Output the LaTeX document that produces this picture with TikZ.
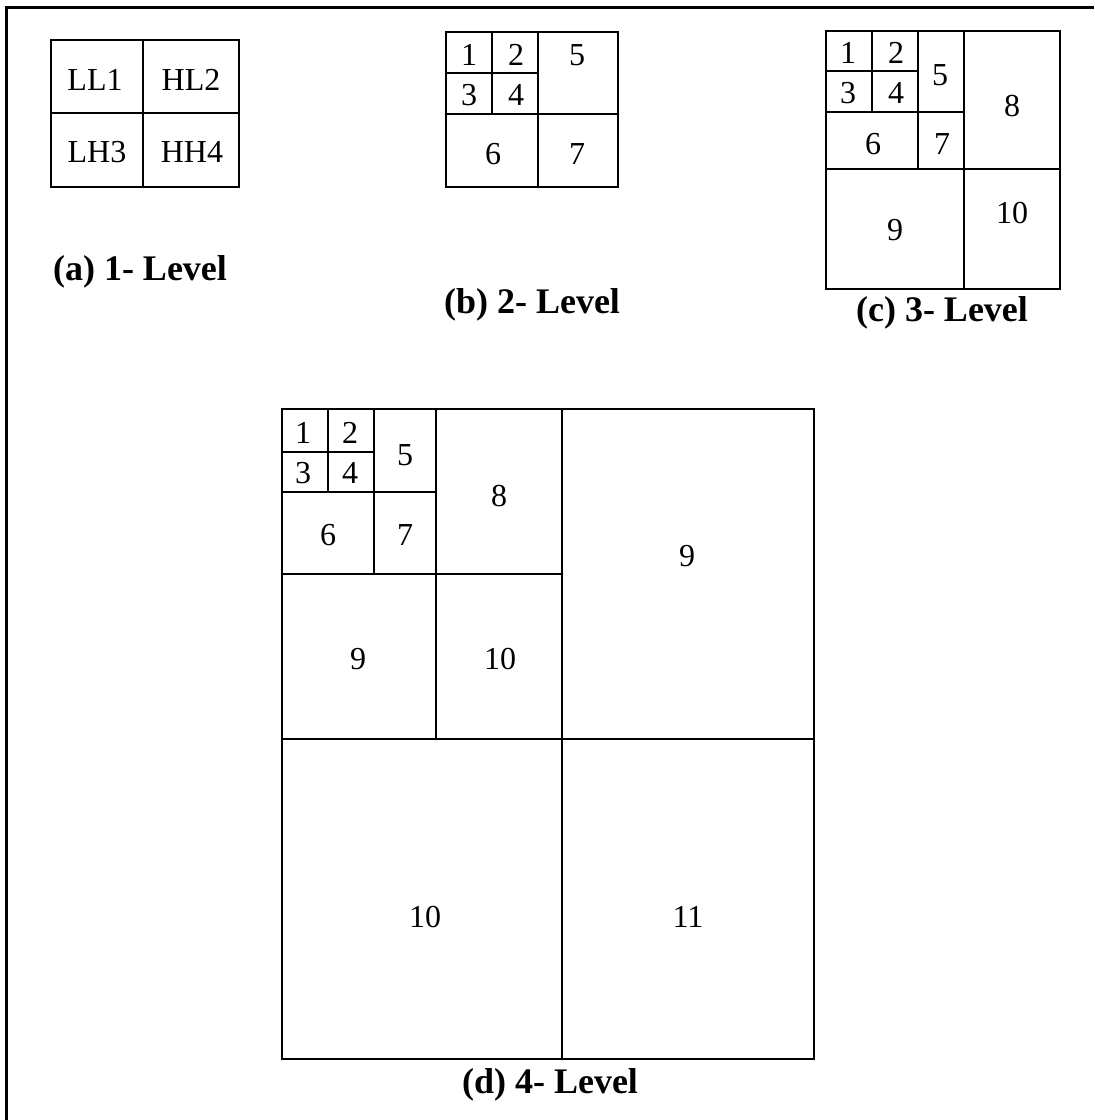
\documentclass[tikz,border=0pt]{standalone}
\usepackage{fontspec}
\setmainfont{Liberation Serif}
\usetikzlibrary{positioning}
\tikzset{
  frameline/.style={draw=black, line width=1.5pt},
  gridline/.style={draw=black, line width=0.7pt},
  celltext/.style={font=\fontsize{16}{19}\selectfont, inner sep=0pt},
  figcaption/.style={font=\fontsize{18}{21}\selectfont\bfseries, inner sep=0pt}
}
\begin{document}
\begin{tikzpicture}[x=0.5pt,y=-0.5pt]
  \useasboundingbox (0,0) rectangle (1094,1120);
  \draw[frameline] (6,1120) -- (6,7) -- (1094,7);

  % (a) one level
  \draw[gridline] (51,40) rectangle (239,187);
  \draw[gridline] (143,40) -- (143,187);
  \draw[gridline] (51,113) -- (239,113);
  \foreach \x/\y/\t [count=\k] in {95/80/LL1, 191/80/HL2, 97/152/LH3, 192/152/HH4} {
    \node[celltext] (a\k) at (\x,\y) {\t};
  }
  \node[figcaption] (capA) at (140,272) {(a) 1- Level};

  % (b) two levels
  \foreach \xa/\ya/\xb/\yb in {446/32/492/73, 492/32/538/73, 446/73/492/114, 492/73/538/114,
      538/32/618/114, 446/114/538/187, 538/114/618/187} {
    \draw[gridline] (\xa,\ya) rectangle (\xb,\yb);
  }
  \foreach \x/\y/\t [count=\k] in {469/55/1, 516/55/2, 469/95/3, 516/95/4, 577/55/5, 493/154/6, 577/154/7} {
    \node[celltext] (b\k) at (\x,\y) {\t};
  }
  \node[figcaption] (capB) at (532,305) {(b) 2- Level};

  % (c) three levels
  \foreach \xa/\ya/\xb/\yb in {826/31/872/71, 872/31/918/71, 826/71/872/112, 872/71/918/112,
      918/31/964/112, 826/112/918/169, 918/112/964/169, 964/31/1060/169,
      826/169/964/289, 964/169/1060/289} {
    \draw[gridline] (\xa,\ya) rectangle (\xb,\yb);
  }
  \foreach \x/\y/\t [count=\k] in {848/53/1, 896/53/2, 848/93/3, 896/93/4, 940/75/5, 873/144/6,
      942/144/7, 1012/106/8, 895/230/9, 1012/213/10} {
    \node[celltext] (c\k) at (\x,\y) {\t};
  }
  \node[figcaption] (capC) at (942,313) {(c) 3- Level};

  % (d) four levels
  \foreach \xa/\ya/\xb/\yb in {282/409/328/452, 328/409/374/452, 282/452/328/492, 328/452/374/492,
      374/409/436/492, 282/492/374/574, 374/492/436/574, 436/409/562/574,
      282/574/436/739, 436/574/562/739, 562/409/814/739,
      282/739/562/1059, 562/739/814/1059} {
    \draw[gridline] (\xa,\ya) rectangle (\xb,\yb);
  }
  \foreach \x/\y/\t [count=\k] in {303/433/1, 350/433/2, 303/473/3, 350/473/4, 405/455/5, 328/535/6,
      405/535/7, 499/496/8, 358/659/9, 500/659/10, 687/556/9, 425/917/10, 688/917/11} {
    \node[celltext] (d\k) at (\x,\y) {\t};
  }
  \node[figcaption] (capD) at (550,1085) {(d) 4- Level};
\end{tikzpicture}
\end{document}
